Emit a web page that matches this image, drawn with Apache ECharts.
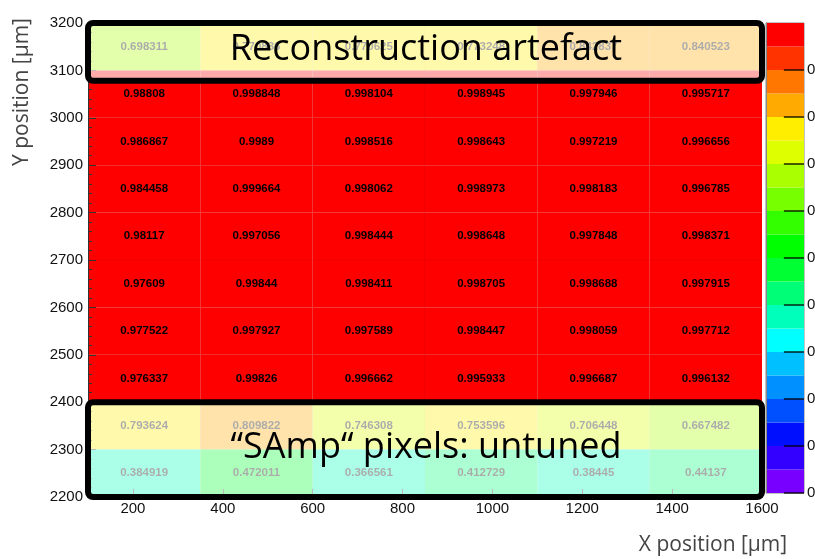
<!DOCTYPE html>
<html>
<head>
<meta charset="utf-8">
<script src="https://cdn.jsdelivr.net/npm/echarts@6/dist/echarts.min.js"></script>
<style>
html,body{margin:0;padding:0;background:#fff;}
#chart{width:815px;height:559px;}
</style>
</head>
<body>
<div id="chart"></div>
<script>
// ---- data ----
const xBinCenters = [225, 475, 725, 975, 1225, 1475];
const yBinCenters = [3150, 3050, 2950, 2850, 2750, 2650, 2550, 2450, 2350, 2250];
const binWidth = 250;
const binHeight = 100;
const row3150 = [0.698311, 0.770836, 0.770625, 0.773248, 0.842837, 0.840523];
const row3050 = [0.98808, 0.998848, 0.998104, 0.998945, 0.997946, 0.995717];
const row2950 = [0.986867, 0.9989, 0.998516, 0.998643, 0.997219, 0.996656];
const row2850 = [0.984458, 0.999664, 0.998062, 0.998973, 0.998183, 0.996785];
const row2750 = [0.98117, 0.997056, 0.998444, 0.998648, 0.997848, 0.998371];
const row2650 = [0.97609, 0.99844, 0.998411, 0.998705, 0.998688, 0.997915];
const row2550 = [0.977522, 0.997927, 0.997589, 0.998447, 0.998059, 0.997712];
const row2450 = [0.976337, 0.99826, 0.996662, 0.995933, 0.996687, 0.996132];
const row2350 = [0.793624, 0.809822, 0.746308, 0.753596, 0.706448, 0.667482];
const row2250 = [0.384919, 0.472011, 0.366561, 0.412729, 0.38445, 0.44137];
const rows = [row3150, row3050, row2950, row2850, row2750, row2650, row2550, row2450, row2350, row2250];

const xTickLabels = [200, 400, 600, 800, 1000, 1200, 1400, 1600];
const zTickLabels = [0, 0.1, 0.2, 0.3, 0.4, 0.5, 0.6, 0.7, 0.8, 0.9];
const zLevels = [0, 0.05, 0.1, 0.15, 0.2, 0.25, 0.3, 0.35, 0.4, 0.45, 0.5, 0.55, 0.6, 0.65, 0.7, 0.75, 0.8, 0.85, 0.9, 0.95, 1.0];
const palette = ['#7700ff', '#3300ff', '#0010ff', '#0050ff', '#0090ff', '#00c0ff', '#00ffff', '#00ffbb', '#00ff77', '#00ff33',
                 '#00ff00', '#33ff00', '#77ff00', '#aaff00', '#ddff00', '#ffee00', '#ffaa00', '#ff7700', '#ff3300', '#ff0000'];

// annotation boxes
const boxX0 = [100, 100];
const boxY0 = [3078, 2200];
const boxX1 = [1600, 1600];
const boxY1 = [3200, 2400];
const boxText = ['Reconstruction artefact', '\u201CSAmp\u201C pixels: untuned'];

// ---- build ----
const cells = [];
rows.forEach((r, i) => r.forEach((v, j) => cells.push([xBinCenters[j], yBinCenters[i], v])));
const bands = [];
for (let k = 0; k < zLevels.length - 1; k++) bands.push([zLevels[k], zLevels[k + 1], k]);
const boxes = boxX0.map((x, i) => [x, boxY0[i], boxX1[i], boxY1[i], i]);
const zTicks = zTickLabels.map(v => [v]);

function colorFor(v) {
  for (let k = 0; k < zLevels.length - 1; k++) {
    if (v >= zLevels[k] && v < zLevels[k + 1]) return palette[k];
  }
  return palette[palette.length - 1];
}

const chart = echarts.init(document.getElementById('chart'), null, {renderer: 'canvas'});
const tickFont = '"Liberation Sans", Arial, sans-serif';
const option = {
  backgroundColor: '#fff',
  animation: false,
  grid: [
    {left: 88, top: 23, width: 674, height: 474, outerBoundsMode: 'none', containLabel: false},
    {left: 766, top: 23, width: 38, height: 470, show: true, borderColor: '#888', borderWidth: 1,
     outerBoundsMode: 'none', containLabel: false}
  ],
  xAxis: [
    {gridIndex: 0, type: 'value', min: 100, max: 1600, z: 4,
     axisLine: {show: true, lineStyle: {color: '#333'}},
     axisTick: {show: true, inside: true, length: 8, customValues: xTickLabels, lineStyle: {color: '#333'}},
     axisLabel: {customValues: xTickLabels, color: '#111', fontSize: 15, fontFamily: tickFont, margin: 4,
                 formatter: v => String(v)},
     splitLine: {show: false}},
    {gridIndex: 1, type: 'value', min: 0, max: 1, show: false}
  ],
  yAxis: [
    {gridIndex: 0, type: 'value', min: 2200, max: 3200, interval: 100, z: 4,
     axisLine: {show: true, lineStyle: {color: '#333'}},
     axisTick: {show: true, inside: true, length: 8, lineStyle: {color: '#333'}},
     minorTick: {show: true, splitNumber: 5, length: 4, lineStyle: {color: '#333'}},
     axisLabel: {color: '#111', fontSize: 15, fontFamily: tickFont, margin: 5, formatter: v => String(v)},
     splitLine: {show: false}},
    {gridIndex: 1, type: 'value', min: 0, max: 1, interval: 0.1, position: 'right', z: 6,
     axisLine: {show: true, lineStyle: {color: '#888'}},
     axisTick: {show: false},
     axisLabel: {color: '#111', fontSize: 15, fontFamily: tickFont, margin: 3,
                 formatter: v => (v >= 0.999 ? '' : v.toFixed(1))},
     splitLine: {show: false}}
  ],
  series: [
    {
      type: 'custom', xAxisIndex: 0, yAxisIndex: 0, z: 2, clip: true,
      data: cells,
      renderItem: function (params, api) {
        const x = api.value(0), y = api.value(1), v = api.value(2);
        const p0 = api.coord([x - binWidth / 2, y + binHeight / 2]);
        const p1 = api.coord([x + binWidth / 2, y - binHeight / 2]);
        return {
          type: 'group',
          children: [
            {type: 'rect', shape: {x: p0[0], y: p0[1], width: p1[0] - p0[0], height: p1[1] - p0[1]},
             style: {fill: colorFor(v), stroke: 'rgba(0,0,0,0.04)', lineWidth: 1}},
            {type: 'text', x: (p0[0] + p1[0]) / 2, y: (p0[1] + p1[1]) / 2,
             style: {text: String(v), fill: '#000', font: 'bold 11.5px "Liberation Sans", Arial, sans-serif',
                     align: 'center', verticalAlign: 'middle'}}
          ]
        };
      }
    },
    {
      type: 'custom', xAxisIndex: 1, yAxisIndex: 1, z: 2, clip: false,
      data: bands,
      renderItem: function (params, api) {
        const p0 = api.coord([0, api.value(1)]);
        const p1 = api.coord([1, api.value(0)]);
        return {type: 'rect', shape: {x: p0[0], y: p0[1], width: p1[0] - p0[0], height: p1[1] - p0[1]},
                style: {fill: palette[api.value(2)]}};
      }
    },
    {
      // colour-scale tick marks (drawn inside the palette box)
      type: 'custom', xAxisIndex: 1, yAxisIndex: 1, z: 3, clip: false,
      data: zTicks,
      renderItem: function (params, api) {
        const a = api.coord([0.47, api.value(0)]);
        const b = api.coord([1, api.value(0)]);
        return {type: 'line', shape: {x1: a[0], y1: a[1], x2: b[0], y2: b[1]},
                style: {stroke: '#000', lineWidth: 1.3}};
      }
    },
    {
      type: 'custom', xAxisIndex: 0, yAxisIndex: 0, z: 5, clip: false,
      data: boxes,
      renderItem: function (params, api) {
        const p0 = api.coord([api.value(0), api.value(3)]);
        const p1 = api.coord([api.value(2), api.value(1)]);
        const idx = api.value(4);
        return {
          type: 'group',
          children: [
            {type: 'rect', shape: {x: p0[0], y: p0[1], width: p1[0] - p0[0], height: p1[1] - p0[1], r: 5},
             style: {fill: 'rgba(255,255,255,0.67)', stroke: '#000', lineWidth: 6}},
            {type: 'text', x: (p0[0] + p1[0]) / 2 + 1, y: (p0[1] + p1[1]) / 2 - 2,
             style: {text: boxText[idx], fill: '#000', font: '36px "Open Sans", sans-serif',
                     align: 'center', verticalAlign: 'middle'}}
          ]
        };
      }
    }
  ],
  graphic: [
    {type: 'text', x: 22, y: 92, rotation: Math.PI / 2,
     style: {text: 'Y position [\u00B5m]', fill: '#444', font: '21px "Open Sans", sans-serif',
             align: 'center', verticalAlign: 'middle'}},
    {type: 'text', x: 713, y: 545,
     style: {text: 'X position [\u00B5m]', fill: '#444', font: '21px "Open Sans", sans-serif',
             align: 'center', verticalAlign: 'middle'}}
  ]
};
chart.setOption(option);
</script>
</body>
</html>
